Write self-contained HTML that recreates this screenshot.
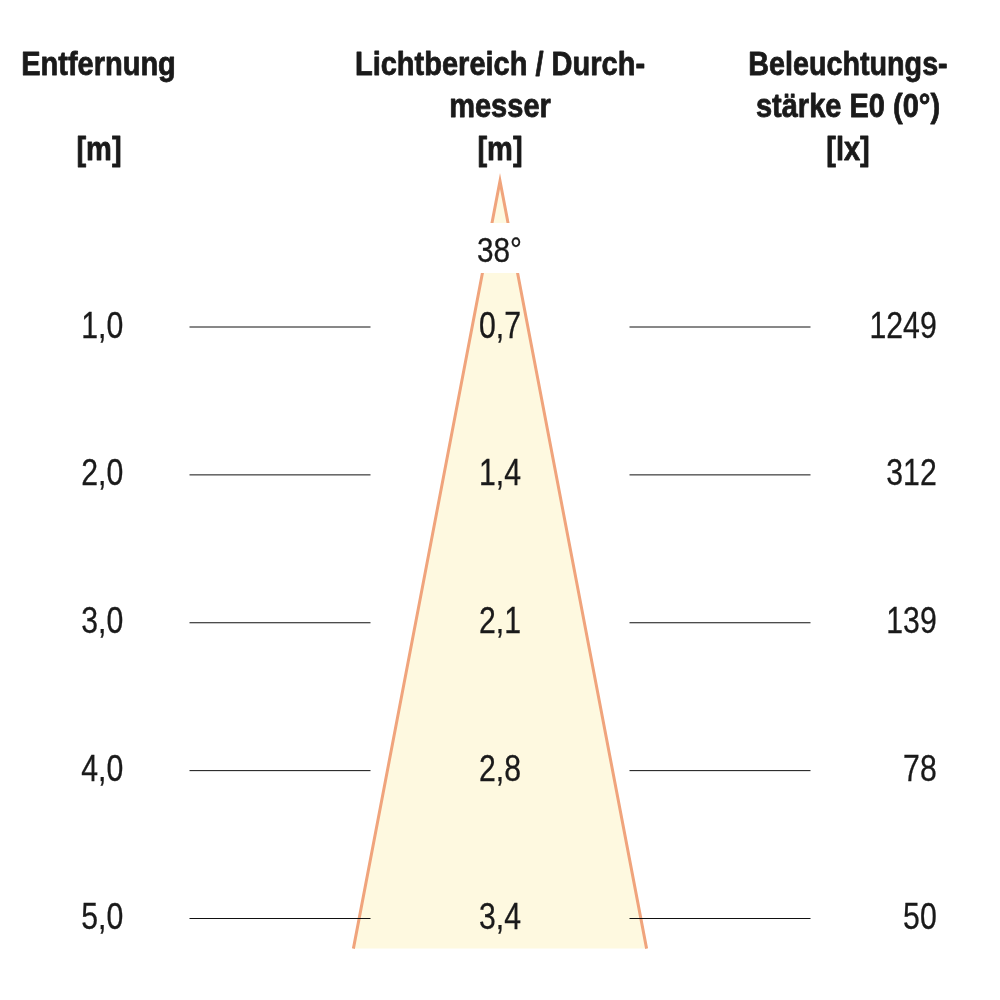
<!DOCTYPE html>
<html lang="de"><head><meta charset="utf-8"><title>Lichtkegel</title>
<style>
html,body{margin:0;padding:0;background:#fff;}
body{width:1000px;height:1000px;overflow:hidden;}
svg{display:block;}
text{font-family:"Liberation Sans",sans-serif;fill:#1a1a1a;stroke:#1a1a1a;stroke-width:0.3px;}
text.b{font-weight:bold;stroke:#1a1a1a;stroke-width:0.8px;stroke-linejoin:round;}
</style></head><body>
<svg width="1000" height="1000" viewBox="0 0 1000 1000">
<rect width="1000" height="1000" fill="#ffffff"/>
<path d="M353.4 948.6 L500 181 L646.6 948.6" fill="#fef9e0" stroke="#f0a47c" stroke-width="3" stroke-miterlimit="20" stroke-linejoin="miter"/>
<rect x="470" y="223" width="60" height="50" fill="#ffffff"/>
<line x1="189.5" y1="327.0" x2="370.5" y2="327.0" stroke="#111" stroke-width="1"/>
<line x1="629.5" y1="327.0" x2="810.5" y2="327.0" stroke="#111" stroke-width="1"/>
<line x1="189.5" y1="474.875" x2="370.5" y2="474.875" stroke="#111" stroke-width="1"/>
<line x1="629.5" y1="474.875" x2="810.5" y2="474.875" stroke="#111" stroke-width="1"/>
<line x1="189.5" y1="622.75" x2="370.5" y2="622.75" stroke="#111" stroke-width="1"/>
<line x1="629.5" y1="622.75" x2="810.5" y2="622.75" stroke="#111" stroke-width="1"/>
<line x1="189.5" y1="770.625" x2="370.5" y2="770.625" stroke="#111" stroke-width="1"/>
<line x1="629.5" y1="770.625" x2="810.5" y2="770.625" stroke="#111" stroke-width="1"/>
<line x1="189.5" y1="918.5" x2="370.5" y2="918.5" stroke="#111" stroke-width="1"/>
<line x1="629.5" y1="918.5" x2="810.5" y2="918.5" stroke="#111" stroke-width="1"/>
<text class="b" transform="translate(98.5,74.6) scale(0.866,1)" text-anchor="middle" font-size="33.5">Entfernung</text>
<text class="b" transform="translate(99,159.5) scale(0.866,1)" text-anchor="middle" font-size="33.5">[m]</text>
<text class="b" transform="translate(500,74.6) scale(0.866,1)" text-anchor="middle" font-size="33.5">Lichtbereich / Durch-</text>
<text class="b" transform="translate(500,116.9) scale(0.866,1)" text-anchor="middle" font-size="33.5">messer</text>
<text class="b" transform="translate(500,159.5) scale(0.866,1)" text-anchor="middle" font-size="33.5">[m]</text>
<text class="b" transform="translate(848,74.6) scale(0.8573,1)" text-anchor="middle" font-size="33.5">Beleuchtungs-</text>
<text class="b" transform="translate(848,116.9) scale(0.866,1)" text-anchor="middle" font-size="33.5">stärke E0 (0°)</text>
<text class="b" transform="translate(848,159.5) scale(0.866,1)" text-anchor="middle" font-size="33.5">[lx]</text>
<text transform="translate(499.5,261.7) scale(0.85,1)" text-anchor="middle" font-size="35">38°</text>
<text transform="translate(123.2,337.6) scale(0.83,1)" text-anchor="end" font-size="36.4">1,0</text>
<text transform="translate(500,337.6) scale(0.83,1)" text-anchor="middle" font-size="36.4">0,7</text>
<text transform="translate(936.7,337.6) scale(0.83,1)" text-anchor="end" font-size="36.4">1249</text>
<text transform="translate(123.2,485.475) scale(0.83,1)" text-anchor="end" font-size="36.4">2,0</text>
<text transform="translate(500,485.475) scale(0.83,1)" text-anchor="middle" font-size="36.4">1,4</text>
<text transform="translate(936.7,485.475) scale(0.83,1)" text-anchor="end" font-size="36.4">312</text>
<text transform="translate(123.2,633.35) scale(0.83,1)" text-anchor="end" font-size="36.4">3,0</text>
<text transform="translate(500,633.35) scale(0.83,1)" text-anchor="middle" font-size="36.4">2,1</text>
<text transform="translate(936.7,633.35) scale(0.83,1)" text-anchor="end" font-size="36.4">139</text>
<text transform="translate(123.2,781.225) scale(0.83,1)" text-anchor="end" font-size="36.4">4,0</text>
<text transform="translate(500,781.225) scale(0.83,1)" text-anchor="middle" font-size="36.4">2,8</text>
<text transform="translate(936.7,781.225) scale(0.83,1)" text-anchor="end" font-size="36.4">78</text>
<text transform="translate(123.2,929.1) scale(0.83,1)" text-anchor="end" font-size="36.4">5,0</text>
<text transform="translate(500,929.1) scale(0.83,1)" text-anchor="middle" font-size="36.4">3,4</text>
<text transform="translate(936.7,929.1) scale(0.83,1)" text-anchor="end" font-size="36.4">50</text>
</svg></body></html>
